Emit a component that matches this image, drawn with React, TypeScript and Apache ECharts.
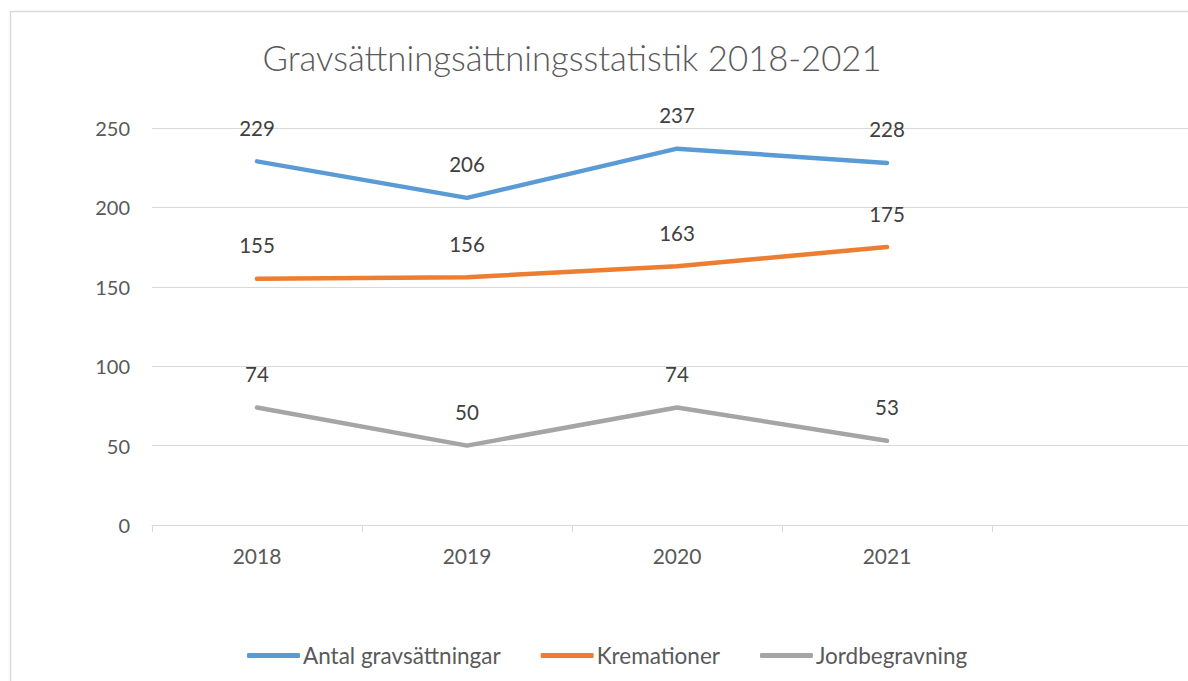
import React, { useEffect, useRef } from "react";
import * as echarts from "echarts";

const categories = ["2018", "2019", "2020", "2021", ""];
const antal = [229, 206, 237, 228];
const kremationer = [155, 156, 163, 175];
const jordbegravning = [74, 50, 74, 53];
const seriesNames = ["Antal gravsättningar", "Kremationer", "Jordbegravning"];
const colors = ["#5B9BD5", "#ED7D31", "#A5A5A5"];

const FONT = "Lato";

export default function App() {
  const ref = useRef<HTMLDivElement>(null);
  useEffect(() => {
    if (!ref.current) return;
    const chart = echarts.init(ref.current, undefined, { renderer: "svg" });
    const mk = (name: string, data: number[], color: string) => ({
      name,
      type: "line",
      data,
      symbol: "circle",
      symbolSize: 0,
      showSymbol: true,
      itemStyle: { color },
      lineStyle: { color, width: 4.5, cap: "round", join: "round" },
      label: {
        show: true,
        position: "top",
        distance: 23,
        color: "#404040",
        fontFamily: FONT,
        fontSize: 20.5,
      },
      emphasis: { disabled: true },
    });
    chart.setOption({
      animation: false,
      backgroundColor: "#ffffff",
      title: {
        text: "Gravsättningsättningsstatistik 2018-2021",
        left: 567,
        textAlign: "center",
        top: 35,
        textStyle: {
          fontFamily: FONT,
          fontWeight: 300,
          fontSize: 34.7,
          color: "#595959",
        },
      },
      legend: {
        data: seriesNames,
        left: 242,
        top: 639,
        itemWidth: 53,
        itemHeight: 5,
        itemGap: 40,
        icon: "roundRect",
        textStyle: { fontFamily: FONT, fontSize: 22.5, color: "#595959", padding: [0, 0, 0, -2] },
      },
      grid: { left: 152, top: 128, width: 1050, height: 397, containLabel: false },
      xAxis: {
        type: "category",
        data: categories,
        boundaryGap: true,
        axisLine: { lineStyle: { color: "#d9d9d9", width: 1 } },
        axisTick: { show: true, length: 7, lineStyle: { color: "#d9d9d9" } },
        axisLabel: { color: "#595959", fontFamily: FONT, fontSize: 21, margin: 20 },
        splitLine: { show: false },
      },
      yAxis: {
        type: "value",
        min: 0,
        max: 250,
        interval: 50,
        axisLine: { show: false },
        axisTick: { show: false },
        axisLabel: { color: "#595959", fontFamily: FONT, fontSize: 20, margin: 22 },
        splitLine: { lineStyle: { color: "#d9d9d9", width: 1 } },
      },
      graphic: [
        {
          type: "rect",
          shape: { x: 10.5, y: 11.5, width: 1400, height: 900 },
          style: { fill: "none", stroke: "#d9d9d9", lineWidth: 1.5 },
          silent: true,
          z: -10,
        },
      ],
      series: [
        mk(seriesNames[0], antal, colors[0]),
        mk(seriesNames[1], kremationer, colors[1]),
        mk(seriesNames[2], jordbegravning, colors[2]),
      ],
    });
    return () => chart.dispose();
  }, []);
  return (
    <div
      style={{
        position: "fixed",
        left: 0,
        top: 0,
        width: 1188,
        height: 681,
        overflow: "hidden",
        background: "#fff",
      }}
    >
      <div ref={ref} style={{ width: 1240, height: 700 }} />
    </div>
  );
}
